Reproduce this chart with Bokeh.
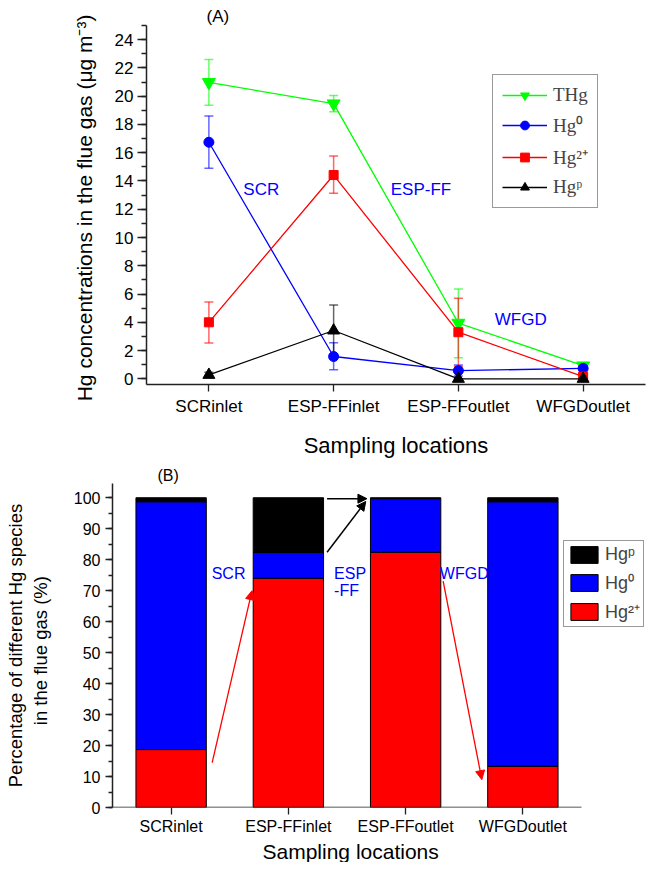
from bokeh.plotting import figure
from bokeh.models import (ColumnDataSource, Whisker, TeeHead, Legend, LegendItem,
                          Label, Arrow, NormalHead, FixedTicker, Range1d, Title)
from bokeh.embed import file_html
from bokeh.resources import INLINE

# ---------------- data ----------------
locations = ["SCRinlet", "ESP-FFinlet", "ESP-FFoutlet", "WFGDoutlet"]
x_pos = [1, 2, 3, 4]

thg = [20.98, 19.47, 3.95, 0.93]
thg_lo = [19.35, 18.9, 1.5, 0.83]
thg_hi = [22.6, 20.05, 6.35, 1.03]

hg0 = [16.74, 1.58, 0.58, 0.74]
hg0_lo = [14.9, 0.65, 0.2, 0.68]
hg0_hi = [18.6, 2.56, 0.98, 0.80]

hg2 = [4.0, 14.42, 3.3, 0.16]
hg2_lo = [2.53, 13.14, 0.9, 0.08]
hg2_hi = [5.44, 15.77, 5.7, 0.24]

hgp = [0.28, 3.42, 0.0, 0.0]
hgp_lo = [0.1, 1.61, 0.0, 0.0]
hgp_hi = [0.46, 5.23, 0.0, 0.0]

pct_hg2 = [18.7, 74.0, 82.4, 13.3]
pct_hg0 = [80.0, 8.3, 17.3, 85.4]
pct_hgp = [1.3, 17.7, 0.3, 1.3]

FONT = "Liberation Sans"
SERIF = "Liberation Serif"
labels_map = {i: n for i, n in zip(x_pos, locations)}


def style_axes(p, tick_size, label_size):
    for ax in (p.xaxis[0], p.yaxis[0]):
        ax.axis_line_width = 1.5
        ax.axis_line_color = "#222222"
        ax.major_tick_line_color = "#222222"
        ax.minor_tick_line_color = "#222222"
        ax.major_tick_line_width = 1.3
        ax.minor_tick_line_width = 1.3
        ax.major_tick_in = 0
        ax.minor_tick_in = 0
        ax.major_label_text_font = FONT
        ax.major_label_text_font_size = tick_size
        ax.major_label_text_color = "black"
        ax.axis_label_text_font = FONT
        ax.axis_label_text_font_size = label_size
        ax.axis_label_text_font_style = "normal"
        ax.axis_label_text_color = "black"
    p.xaxis.ticker = FixedTicker(ticks=x_pos)
    p.xaxis.major_label_overrides = labels_map
    p.xaxis.minor_tick_line_color = None
    p.xgrid.visible = False
    p.ygrid.visible = False
    p.outline_line_color = None
    p.title.text_font = FONT
    p.title.text_font_style = "normal"
    p.title.text_color = "black"
    p.title.standoff = 0
    p.title.align = "left"


# ---------------- top chart (A) ----------------
p1 = figure(width=646, height=460, x_range=Range1d(0.5, 4.5), y_range=Range1d(-0.4, 25),
            output_backend="svg", toolbar_location=None, title="(A)",
            min_border_left=146, min_border_right=1, min_border_top=25, min_border_bottom=20)
style_axes(p1, "17px", "21px")
p1.title.text_font_size = "17px"
p1.title.offset = 60
p1.yaxis.ticker = FixedTicker(ticks=list(range(0, 25, 2)), minor_ticks=list(range(0, 26, 1)))
p1.yaxis.major_tick_out = 9
p1.yaxis.minor_tick_out = 5
p1.xaxis.major_tick_out = 7
p1.yaxis.major_label_standoff = 4
p1.xaxis.major_label_standoff = 5
p1.yaxis.axis_label = "Hg concentrations in the flue gas  (\u03bcg m\u207b\u00b3)"
p1.yaxis.axis_label_standoff = 16
p1.xaxis.axis_label = "Sampling locations"
p1.xaxis.axis_label_text_font_size = "22px"
p1.xaxis.axis_label_standoff = 14

series = [
    ("THg", thg, thg_lo, thg_hi, "#00ff00", "inverted_triangle", 13),
    ("Hg\u2070", hg0, hg0_lo, hg0_hi, "#0000ff", "circle", 10),
    ("Hg\u00b2\u207a", hg2, hg2_lo, hg2_hi, "#ff0000", "square", 9),
    ("Hg\u1d56", hgp, hgp_lo, hgp_hi, "#000000", "triangle", 12),
]
items = []
for name, vals, lo, hi, color, marker, size in series:
    src = ColumnDataSource(dict(x=x_pos, y=vals, lo=lo, hi=hi))
    w = Whisker(base="x", lower="lo", upper="hi", source=src, line_color=color,
                line_alpha=0.6, line_width=1.5,
                upper_head=TeeHead(size=9, line_color=color, line_alpha=0.6, line_width=1.5),
                lower_head=TeeHead(size=9, line_color=color, line_alpha=0.6, line_width=1.5))
    p1.add_layout(w)
    r1 = p1.line("x", "y", source=src, line_color=color, line_width=1.3)
    r2 = p1.scatter("x", "y", source=src, marker=marker, size=size,
                    fill_color=color, line_color=color)
    items.append(LegendItem(label=name, renderers=[r1, r2]))

leg1 = Legend(items=items, location=(346, 176), border_line_color="#333333",
              border_line_width=1.5, label_text_font=SERIF, label_text_font_size="19px",
              glyph_width=45, glyph_height=22, label_height=22, spacing=6, padding=9,
              label_standoff=6, background_fill_alpha=1.0, margin=0)
p1.add_layout(leg1)

for txt, x, y in [("SCR", 1.42, 13.4), ("ESP-FF", 2.70, 13.4), ("WFGD", 3.50, 4.2)]:
    p1.add_layout(Label(x=x, y=y, text=txt, text_color="blue", text_font=FONT,
                        text_font_size="17px", text_align="center", text_baseline="middle"))

# ---------------- bottom chart (B) ----------------
# frame extends to the canvas edge so the legend (outside the axis span) can show
x_end2 = 0.5 + 4.0 * (533.0 / 469.0)
p2 = figure(width=646, height=402, x_range=Range1d(0.5, x_end2), y_range=Range1d(0, 104.6),
            output_backend="svg", toolbar_location=None, title="(B)",
            min_border_left=112, min_border_right=1, min_border_top=23, min_border_bottom=10)
style_axes(p2, "16px", "20px")
p2.title.text_font_size = "16px"
p2.title.offset = 45
p2.yaxis.ticker = FixedTicker(ticks=list(range(0, 101, 10)), minor_ticks=list(range(0, 105, 5)))
p2.yaxis.major_tick_out = 7
p2.yaxis.minor_tick_out = 4
p2.xaxis.major_tick_out = 7
p2.xaxis.axis_line_color = None
p2.yaxis.major_label_standoff = 5
p2.xaxis.major_label_standoff = 3
p2.yaxis.axis_label = "Percentage of different Hg species\nin the flue gas   (%)"
p2.yaxis.axis_label_text_font_size = "18.5px"
p2.yaxis.axis_label_standoff = 20
xt = Title(text="Sampling locations", align="left", offset=150, text_font=FONT,
           text_font_size="21px", text_font_style="normal", text_color="black", standoff=0)
p2.add_layout(xt, "below")

src2 = ColumnDataSource(dict(x=x_pos, hg2=pct_hg2, hg0=pct_hg0, hgp=pct_hgp))
bars = p2.vbar_stack(["hg2", "hg0", "hgp"], x="x", width=0.6, source=src2,
                     fill_color=["#ff0000", "#0000ff", "#000000"], line_color="black",
                     line_width=1)
# x-axis baseline over the category span only
p2.segment(x0=[0.5], y0=[0], x1=[4.5], y1=[0], line_color="#222222", line_width=1.5)

leg2 = Legend(items=[LegendItem(label="Hg\u1d56", renderers=[bars[2]]),
                     LegendItem(label="Hg\u2070", renderers=[bars[1]]),
                     LegendItem(label="Hg\u00b2\u207a", renderers=[bars[0]])],
              location=(451, 180), border_line_color="#333333", border_line_width=1.5,
              label_text_font=FONT, label_text_font_size="18px",
              glyph_width=34, glyph_height=21, label_height=21, spacing=5, padding=3,
              label_standoff=4, margin=0)
p2.add_layout(leg2)

# arrows
p2.add_layout(Arrow(end=NormalHead(size=9, fill_color="red", line_color="red"),
                    x_start=1.35, y_start=14.5, x_end=1.69, y_end=70.0,
                    line_color="red", line_width=1.3))
p2.add_layout(Arrow(end=NormalHead(size=9, fill_color="red", line_color="red"),
                    x_start=3.32, y_start=73.1, x_end=3.65, y_end=9.0,
                    line_color="red", line_width=1.3))
p2.add_layout(Arrow(end=NormalHead(size=9, fill_color="black", line_color="black"),
                    x_start=2.33, y_start=82.4, x_end=2.66, y_end=98.8,
                    line_color="black", line_width=1.5))
p2.add_layout(Arrow(end=NormalHead(size=9, fill_color="black", line_color="black"),
                    x_start=2.33, y_start=99.7, x_end=2.67, y_end=99.7,
                    line_color="black", line_width=1.5))

for txt, x, y, al in [("SCR", 1.49, 75.6, "center"), ("ESP", 2.39, 75.6, "left"),
                      ("-FF", 2.39, 70.1, "left"), ("WFGD", 3.50, 75.6, "center")]:
    p2.add_layout(Label(x=x, y=y, text=txt, text_color="blue", text_font=FONT,
                        text_font_size="16px", text_align=al, text_baseline="middle"))

open("out.html", "w").write(file_html([p1, p2], INLINE))
